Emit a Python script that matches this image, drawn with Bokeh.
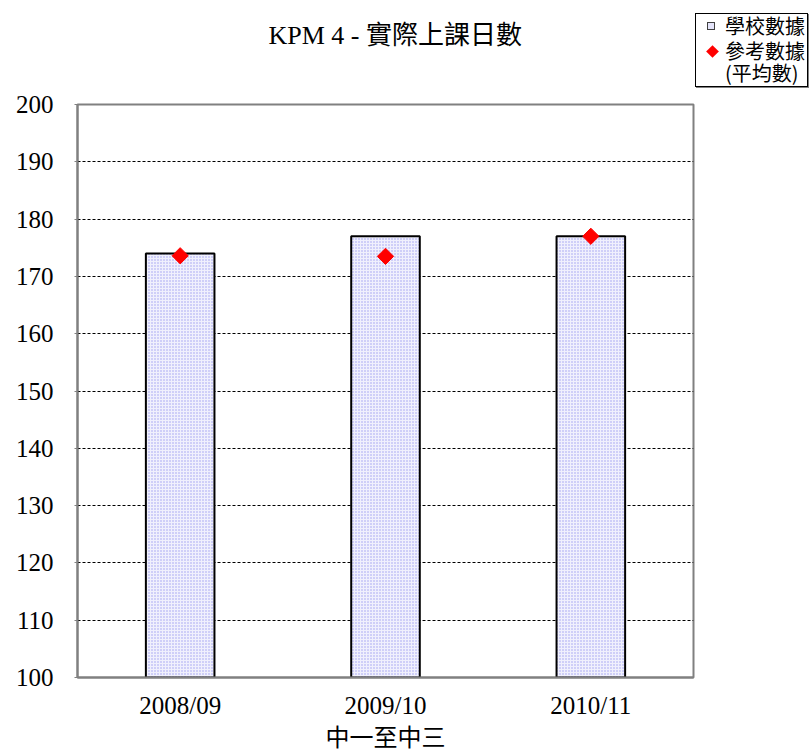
from bokeh.plotting import figure
from bokeh.models import ColumnDataSource, FixedTicker, Range1d, Title, Div
from bokeh.layouts import row
from bokeh.embed import file_html
from bokeh.resources import INLINE

years = ["2008/09", "2009/10", "2010/11"]
school = [174, 177, 177]
reference = [173.6, 173.5, 177]
y_ticks = [100, 110, 120, 130, 140, 150, 160, 170, 180, 190, 200]
legend_labels = ["學校數據", "參考數據", "(平均數)"]

src = ColumnDataSource(dict(x=years, school=school, ref=reference))

p = figure(x_range=years, y_range=Range1d(100, 200), width=695, height=753,
           output_backend="svg", toolbar_location=None,
           min_border_left=77, min_border_right=2, min_border_top=104, min_border_bottom=76)

p.title.text = "KPM 4 - 實際上課日數"
p.title.align = "left"
p.title.text_font = "Liberation Serif, Noto Sans CJK TC"
p.title.text_font_size = "26px"
p.title.text_font_style = "normal"
p.title.text_color = "black"
p.title.offset = 191
p.title.standoff = 10
# spacer between the title and the plot area
p.add_layout(Title(text=" ", text_font_size="2px", standoff=46), "above")

p.outline_line_color = "#808080"
p.outline_line_width = 2
p.background_fill_color = "white"
p.border_fill_color = "white"

p.xgrid.grid_line_color = None
p.ygrid.grid_line_color = "black"
p.ygrid.grid_line_dash = "3 2"
p.ygrid.grid_line_width = 1

p.yaxis.ticker = FixedTicker(ticks=y_ticks)
p.yaxis.minor_tick_line_color = None
p.yaxis.major_tick_out = 3
p.yaxis.major_tick_in = 0
p.yaxis.major_tick_line_color = "#808080"
p.yaxis.axis_line_color = "#808080"
p.yaxis.axis_line_width = 2
p.yaxis.major_label_text_font = "Liberation Serif"
p.yaxis.major_label_text_font_size = "25px"
p.yaxis.major_label_text_color = "black"
p.yaxis.major_label_standoff = 21

p.xaxis.major_tick_line_color = None
p.xaxis.minor_tick_line_color = None
p.xaxis.axis_line_color = "#808080"
p.xaxis.axis_line_width = 2
p.xaxis.major_label_text_font = "Liberation Serif"
p.xaxis.major_label_text_font_size = "25px"
p.xaxis.major_label_text_color = "black"
p.xaxis.major_label_standoff = 8
p.xaxis.axis_label = "中一至中三"
p.xaxis.axis_label_text_font = "Liberation Serif, Noto Sans CJK TC"
p.xaxis.axis_label_text_font_size = "24px"
p.xaxis.axis_label_text_font_style = "normal"
p.xaxis.axis_label_text_color = "black"
p.xaxis.axis_label_standoff = 3

p.vbar(x="x", top="school", bottom=100, width=0.334, source=src,
       fill_color="#f0f0fd", line_color="black", line_width=2,
       hatch_pattern=".", hatch_color="#9d9df0", hatch_scale=3, hatch_weight=1)
p.scatter(x="x", y="ref", source=src, size=11.5, marker="square", angle=0.785398,
          fill_color="#ff0000", line_color="#ff0000")

# legend box (HTML) to the right of the title area
cell1 = "width:29px;flex:none;height:20px;display:flex;align-items:center;justify-content:center;"
cell2 = "width:29px;flex:none;height:22px;display:flex;align-items:center;justify-content:center;"
legend_html = (
    '<div style="margin-top:13px;width:113px;border:1px solid #000;padding:2px 0;'
    'background:#fff;box-shadow:1px 1px 0 #808080;font-family:\'Noto Sans CJK TC\';'
    'font-size:20px;line-height:20px;color:#000;">'
    '<div style="display:flex;align-items:center;">'
    f'<span style="{cell1}"><span style="display:block;width:8px;height:8px;'
    'border:1px solid #404040;background:#e4e4fa;"></span></span>'
    f'<span>{legend_labels[0]}</span></div>'
    '<div style="display:flex;margin-top:4px;line-height:22px;">'
    f'<span style="{cell2}"><span style="display:block;width:9px;height:9px;'
    'background:#ff0000;transform:rotate(45deg);margin-left:4px;"></span></span>'
    f'<span>{legend_labels[1]}<br>{legend_labels[2]}</span></div>'
    '</div>'
)
legend_div = Div(text=legend_html, width=116, height=753, margin=(0, 0, 0, 0))

layout = row(p, legend_div)
open("out.html", "w").write(file_html(layout, INLINE))
